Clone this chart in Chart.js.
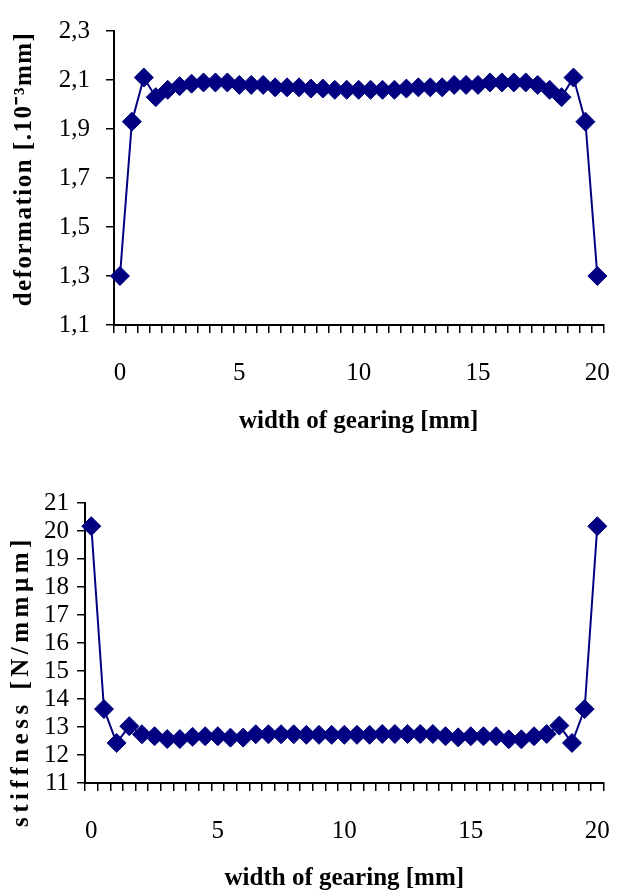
<!DOCTYPE html>
<html>
<head>
<meta charset="utf-8">
<title>deformation / stiffness</title>
<script src="https://cdn.jsdelivr.net/npm/chart.js@4/dist/chart.umd.min.js"></script>
<style>
  body { margin: 0; background: #fff; }
  .panel { position: absolute; left: 0; width: 635px; height: 447px; }
</style>
</head>
<body>
<div class="panel" style="top:0"><canvas id="grafDeformacion"></canvas></div>
<div class="panel" style="top:447px"><canvas id="grafRigidez"></canvas></div>
<script>
// ancho del engranaje [mm]
const anchos = [0, 0.5, 1, 1.5, 2, 2.5, 3, 3.5, 4, 4.5, 5, 5.5, 6, 6.5, 7, 7.5, 8, 8.5, 9, 9.5,
  10, 10.5, 11, 11.5, 12, 12.5, 13, 13.5, 14, 14.5, 15, 15.5, 16, 16.5, 17, 17.5, 18, 18.5, 19, 19.5, 20];

// deformacion [.10^-3 mm]
const deformacion = [1.30, 1.93, 2.11, 2.03, 2.06, 2.075, 2.085, 2.09, 2.09, 2.09,
  2.08, 2.08, 2.08, 2.07, 2.07, 2.07, 2.065, 2.065, 2.06, 2.06,
  2.06, 2.06, 2.06, 2.06, 2.065, 2.07, 2.07, 2.07, 2.08, 2.08,
  2.08, 2.09, 2.09, 2.09, 2.09, 2.08, 2.06, 2.03, 2.11, 1.93, 1.30];

// rigidez [N/mm um]
const rigidez = [20.17, 13.64, 12.43, 13.03, 12.74, 12.67, 12.57, 12.57, 12.65, 12.67,
  12.67, 12.62, 12.62, 12.74, 12.74, 12.74, 12.74, 12.72, 12.72, 12.72,
  12.72, 12.72, 12.72, 12.75, 12.75, 12.75, 12.75, 12.75, 12.67, 12.63,
  12.67, 12.67, 12.67, 12.56, 12.56, 12.67, 12.75, 13.05, 12.43, 13.64, 20.17];

const ticksDeformacion = [1.1, 1.3, 1.5, 1.7, 1.9, 2.1, 2.3];
const ticksRigidez = [11, 12, 13, 14, 15, 16, 17, 18, 19, 20, 21];
const etiquetasX = [0, 5, 10, 15, 20];

const azul = '#000080';
const fuente = "'Liberation Serif', 'Times New Roman', serif";

function crearGrafica(id, datos, ticksY, decimales, tituloY, opc) {
  new Chart(document.getElementById(id), {
    type: 'line',
    data: {
      labels: anchos,
      datasets: [{
        data: datos,
        borderColor: azul,
        backgroundColor: azul,
        borderWidth: 2,
        pointStyle: 'rectRot',
        pointRadius: 9.5,
        pointBorderWidth: 1,
        tension: 0
      }]
    },
    options: {
      responsive: true,
      maintainAspectRatio: false,
      animation: false,
      layout: { padding: { top: opc.arriba, right: opc.derecha, bottom: 0, left: 0 } },
      plugins: {
        legend: { display: false },
        tooltip: { enabled: false }
      },
      scales: {
        x: {
          type: 'category',
          offset: true,
          grid: { display: true, offset: true, drawOnChartArea: false, tickLength: 8, color: '#000', lineWidth: 1.5 },
          border: { display: true, color: '#000', width: 2 },
          ticks: {
            autoSkip: false,
            maxRotation: 0,
            padding: 25,
            color: '#000',
            font: { family: fuente, size: 25 },
            callback: (v, i) => etiquetasX.includes(anchos[i]) ? String(anchos[i]) : ''
          },
          title: {
            display: true,
            text: 'width of gearing [mm]',
            color: '#000',
            font: { family: fuente, size: 25, weight: 'bold' },
            padding: { top: 0, bottom: opc.tituloXAbajo }
          },
          afterFit: s => { s.height = opc.altoX; }
        },
        y: {
          min: ticksY[0],
          max: ticksY[ticksY.length - 1],
          afterBuildTicks: s => { s.ticks = ticksY.map(v => ({ value: v })); },
          grid: { drawOnChartArea: false, tickLength: 8, color: '#000', lineWidth: 1.5 },
          border: { display: true, color: '#000', width: 2 },
          ticks: {
            autoSkip: false,
            padding: opc.paddingY,
            color: '#000',
            font: { family: fuente, size: 25 },
            callback: v => v.toFixed(decimales).replace('.', ',')
          },
          title: {
            display: true,
            text: tituloY,
            color: '#000',
            font: { family: fuente, size: 25, weight: 'bold' },
            padding: { top: opc.tituloYIzq, bottom: 0 }
          },
          afterFit: s => {
            s.width = opc.anchoY;
            // titulo espaciado como en el original
            if (!s._parchado) {
              const dibujar = s.drawTitle.bind(s);
              s.drawTitle = function () {
                this.ctx.save();
                this.ctx.letterSpacing = opc.espaciado + 'px';
                this.ctx.translate(0, opc.desplazaY);
                dibujar();
                this.ctx.restore();
              };
              s._parchado = true;
            }
          }
        }
      }
    }
  });
}

crearGrafica('grafDeformacion', deformacion, ticksDeformacion, 1, 'deformation [.10\u207B\u00B3mm]', {
  arriba: 23, derecha: 12, altoX: 122, anchoY: 114, paddingY: 16,
  tituloXAbajo: 10, tituloYIzq: 10, espaciado: 1.5, desplazaY: -9
});

crearGrafica('grafRigidez', rigidez, ticksRigidez, 0, 'stiffness [N/mm\u00B5m]', {
  arriba: 56, derecha: 17, altoX: 111, anchoY: 85, paddingY: 8,
  tituloXAbajo: 0, tituloYIzq: 7, espaciado: 4.5, desplazaY: 38
});
</script>
</body>
</html>
